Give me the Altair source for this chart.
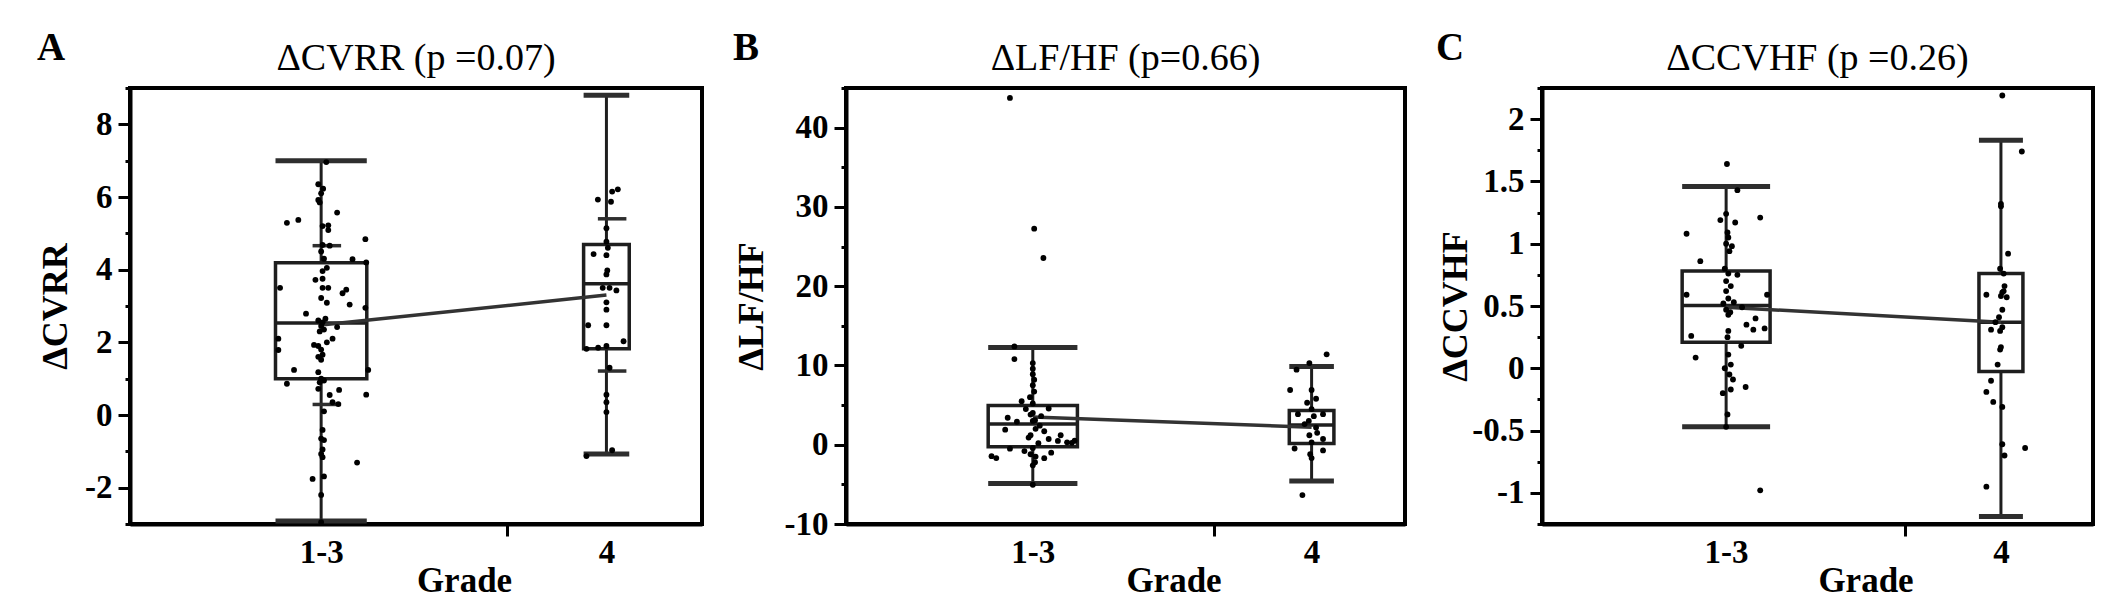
import altair as alt
import pandas as pd

FONT = "Liberation Serif"

# ---------------- text ----------------
panel_letters = ["A", "B", "C"]
panel_titles = ["ΔCVRR (p =0.07)", "ΔLF/HF (p=0.66)", "ΔCCVHF (p =0.26)"]
y_titles = ["ΔCVRR", "ΔLF/HF", "ΔCCVHF"]
x_title = "Grade"
group_pos = [1, 2]
group_labels = ["1-3", "4"]
x_tick_values = [1, 1.65, 2]
x_domain = [0.33, 2.335]

# ---------------- panel A : ΔCVRR ----------------
A_domain = [-3, 9]
A_ticks = list(range(-3, 10))
A_q1 = [1.0, 1.82]
A_med = [2.53, 3.61]
A_q3 = [4.19, 4.69]
A_lo = [-2.92, -1.07]
A_hi = [7.0, 8.8]
A_mean = [2.475, 3.3]
A_sd_hi = [4.66, 5.4]
A_sd_lo = [0.29, 1.21]
A_g1_dx = [0.018, 0.007, 0.0, -0.01, -0.005, 0.056, -0.12, -0.08, 0.025, 0.025, 0.005, 0.03, 0.155, 0.01,
           0.11, 0.158, 0.005, -0.02, 0.005, -0.144, 0.025, 0.005, 0.088, 0.075, 0.0, 0.02, 0.1, 0.155,
           -0.053, -0.01, 0.005, 0.056, -0.15, -0.15, -0.025, -0.01, 0.0, 0.005, 0.0, 0.04, -0.095, -0.01,
           0.165, -0.12, -0.005, -0.01, 0.063, 0.158, 0.03, 0.04, 0.06, 0.005, 0.01, 0.005, 0.126, -0.03,
           0.01, 0.0, 0.0, 0.0, 0.01, -0.005, 0.015, 0.02, -0.01, 0.0, 0.01, 0.02, 0.0, 0.005, -0.01,
           0.005, 0.0, 0.0, 0.01]
A_g1_y = [6.96, 6.23, 6.1, 5.92, 5.85, 5.57, 5.29, 5.37, 5.22, 5.09, 4.68, 4.66, 4.84, 4.3,
          4.29, 4.2, 3.96, 3.72, 3.75, 3.5, 3.5, 3.5, 3.45, 3.35, 3.22, 3.09, 3.04, 2.95,
          2.79, 2.6, 2.55, 2.42, 2.1, 1.79, 1.93, 1.9, 1.8, 1.66, 1.52, 2.1, 1.24, 1.18,
          1.24, 0.86, 0.9, 0.72, 0.69, 0.56, 0.55, 0.35, 0.3, -0.41, -0.69, -1.16, -1.31, -1.76,
          -1.69, -2.2, -2.95, 2.45, 2.35, 2.3, 2.65, 2.0, 1.6, 1.0, 0.95, 4.05, 4.5, 5.2, 6.35,
          -0.95, -0.65, -1.07, 0.1]
A_g2_dx = [0.04, 0.02, -0.03, 0.016, 0.0, 0.0, -0.045, 0.0, 0.003, 0.0, -0.013, 0.011, 0.035, 0.0,
           -0.064, 0.0, 0.06, -0.07, -0.029, 0.0, 0.011, 0.0, 0.0, 0.0, -0.07, 0.02, 0.005, 0.0]
A_g2_y = [6.21, 6.15, 5.93, 5.87, 5.14, 4.77, 4.43, 4.4, 3.98, 3.87, 3.5, 3.5, 3.43, 3.1,
          2.47, 2.47, 2.03, 1.82, 1.85, 1.9, 1.3, 0.56, 0.35, 0.08, -1.13, -0.97, 4.6, 2.9]

# ---------------- panel B : ΔLF/HF ----------------
B_domain = [-10, 45]
B_ticks = list(range(-10, 50, 5))
B_q1 = [-0.24, 0.14]
B_med = [2.6, 2.5]
B_q3 = [4.95, 4.33]
B_lo = [-4.9, -4.57]
B_hi = [12.26, 9.86]
B_mean = [3.5, 2.2]
B_g1_dx = [-0.082, 0.005, 0.038, -0.066, -0.066, 0.0, 0.0, 0.0, 0.005, 0.0, 0.005, -0.01, 0.057, -0.09,
           -0.057, -0.099, -0.025, -0.008, 0.008, 0.025, 0.041, -0.008, 0.057, 0.09, 0.14, -0.082, -0.148,
           -0.131, -0.008, 0.041, 0.008, 0.0, 0.066, 0.123, 0.0, 0.0, 0.01, -0.015, 0.02, 0.0, -0.03, 0.03,
           0.15, 0.1, -0.04, 0.0, 0.0, 0.01]
B_g1_y = [43.75, 27.26, 23.56, 12.4, 10.8, 10.3, 9.6, 8.9, 8.2, 7.5, 6.7, 6.0, 4.57, 3.4,
          2.9, 1.9, 4.5, 3.8, 3.1, 2.4, 1.7, 1.2, 0.72, 0.48, 0.24, -0.5, -1.44,
          -1.68, -1.2, -1.7, -2.2, -5.05, -1.0, 0.3, 5.2, 4.0, 2.0, 0.9, 0.2, -0.4, -0.8, 3.6,
          0.5, 1.2, 5.5, 3.0, -2.6, -1.5]
B_g2_dx = [0.054, -0.008, -0.054, -0.077, 0.0, 0.016, -0.016, -0.049, 0.008, 0.041, -0.025, 0.016,
           -0.008, 0.041, -0.061, -0.005, 0.041, 0.0, -0.033, 0.0, 0.02, -0.01, 0.0]
B_g2_y = [11.4, 10.3, 9.47, 6.9, 6.9, 5.8, 5.3, 3.85, 3.6, 3.85, 2.6, 2.16,
          1.2, 0.72, -0.48, -1.2, -0.72, -1.68, -6.35, 4.5, 1.5, 3.0, 0.3]

# ---------------- panel C : ΔCCVHF ----------------
C_domain = [-1.25, 2.25]
C_ticks = [-1.25, -1.0, -0.75, -0.5, -0.25, 0.0, 0.25, 0.5, 0.75, 1.0, 1.25, 1.5, 1.75, 2.0, 2.25]
C_q1 = [0.21, -0.025]
C_med = [0.505, 0.37]
C_q3 = [0.78, 0.76]
C_lo = [-0.47, -1.19]
C_hi = [1.46, 1.83]
C_mean = [0.49, 0.37]
C_g1_dx = [0.003, 0.041, -0.021, 0.0, 0.033, 0.124, -0.144, 0.005, 0.008, 0.021, 0.012, -0.094, -0.005,
           0.008, 0.0, 0.017, 0.041, -0.144, 0.149, 0.008, 0.028, 0.0, 0.008, 0.058, 0.107, 0.074, 0.099,
           0.14, -0.127, 0.008, 0.055, -0.111, 0.008, 0.017, 0.012, 0.025, 0.071, -0.012, 0.017, 0.005,
           0.124, 0.0, 0.0, -0.01, 0.015, 0.0, 0.005, -0.005]
C_g1_y = [1.64, 1.43, 1.19, 1.24, 1.17, 1.21, 1.08, 1.09, 1.05, 0.98, 0.94, 0.86, 0.8,
          0.76, 0.7, 0.66, 0.75, 0.59, 0.59, 0.56, 0.53, 0.47, 0.43, 0.49, 0.4, 0.35, 0.31,
          0.32, 0.26, 0.3, 0.18, 0.086, 0.11, 0.03, -0.05, -0.09, -0.15, -0.2, -0.17, -0.37,
          -0.98, -0.47, 0.62, 0.52, 0.45, 1.0, 0.25, 0.0]
C_g2_dx = [0.005, 0.076, 0.0, 0.026, -0.003, 0.01, 0.013, 0.005, 0.0, -0.053, 0.021, 0.005, -0.007,
           -0.02, -0.036, 0.005, -0.003, 0.0, -0.003, -0.012, -0.036, -0.053, -0.028, 0.005, 0.005,
           0.013, 0.088, -0.053, 0.01, 0.0]
C_g2_y = [2.19, 1.74, 1.3, 0.92, 0.8, 0.76, 0.66, 0.61, 0.58, 0.59, 0.57, 0.47, 0.41,
          0.37, 0.31, 0.33, 0.3, 0.17, 0.15, 0.03, -0.1, -0.19, -0.27, -0.31, -0.61,
          -0.7, -0.64, -0.95, 0.62, 1.32]

# ---------------- styling ----------------
BOX_HALF = [0.16, 0.08]
SD_SHIFT = 0.02
SD_HALF = 0.05
LINE_COLOR = "#1e1e1e"
CAP_COLOR = "#2e2e2e"


def make_panel(idx, width, domain, ticks, major_test, label_expr, title_x, letter_dx,
               q1, med, q3, lo, hi, mean, g1, g2, sd=None):
    box = pd.DataFrame({
        "x": group_pos,
        "xlo": [g - h for g, h in zip(group_pos, BOX_HALF)],
        "xhi": [g + h for g, h in zip(group_pos, BOX_HALF)],
        "q1": q1, "med": med, "q3": q3, "lo": lo, "hi": hi, "mean": mean,
    })
    pts = pd.DataFrame({
        "x": [group_pos[0] + d for d in g1[0]] + [group_pos[1] + d for d in g2[0]],
        "y": list(g1[1]) + list(g2[1]),
    })

    xscale = alt.Scale(domain=x_domain, nice=False, zero=False)
    yscale = alt.Scale(domain=domain, nice=False, zero=False)
    xaxis = alt.Axis(
        title=x_title, values=x_tick_values, grid=False,
        labelExpr="datum.value == 1 ? '" + group_labels[0] + "' : (datum.value == 2 ? '" + group_labels[1] + "' : '')",
        tickColor={"condition": {"test": "datum.value == 1.65", "value": "black"}, "value": "transparent"},
        tickSize=12, tickWidth=3, domainColor="black", domainWidth=4,
        labelFont=FONT, labelFontSize=33, labelFontWeight="bold", labelColor="black",
        labelPadding=0, labelOverlap=False, labelFlush=False,
        titleFont=FONT, titleFontSize=35, titleFontWeight="bold", titleColor="black",
        titleX=width / 2 + 48, titleY=67, titleBaseline="alphabetic",
    )
    yaxis = alt.Axis(
        title=y_titles[idx], values=ticks, grid=False, labelExpr=label_expr,
        tickColor="black", tickWidth=3,
        tickSize={"condition": {"test": "!(" + major_test + ")", "value": 5}, "value": 12},
        domainColor="black", domainWidth=4,
        labelFont=FONT, labelFontSize=33, labelFontWeight="bold", labelColor="black",
        labelPadding=6, labelOverlap=False, labelFlush=False,
        titleFont=FONT, titleFontSize=36, titleFontWeight="bold", titleColor="black",
        titleX=title_x, titleBaseline="alphabetic", titleAngle=270,
    )

    base = alt.Chart(box)
    X = alt.X("x:Q", scale=xscale, axis=xaxis)
    rect = base.mark_rect(fill="transparent", stroke=LINE_COLOR, strokeWidth=3.5).encode(
        x=alt.X("xlo:Q", scale=xscale, axis=xaxis), x2="xhi:Q",
        y=alt.Y("q1:Q", scale=yscale, axis=yaxis), y2="q3:Q")
    median = base.mark_rule(color=LINE_COLOR, strokeWidth=3.5).encode(
        x=alt.X("xlo:Q", scale=xscale, axis=xaxis), x2="xhi:Q",
        y=alt.Y("med:Q", scale=yscale, axis=yaxis))
    wh_up = base.mark_rule(color=LINE_COLOR, strokeWidth=3).encode(
        x=X, y=alt.Y("q3:Q", scale=yscale, axis=yaxis), y2="hi:Q")
    wh_dn = base.mark_rule(color=LINE_COLOR, strokeWidth=3).encode(
        x=X, y=alt.Y("q1:Q", scale=yscale, axis=yaxis), y2="lo:Q")
    cap_up = base.mark_rule(color=CAP_COLOR, strokeWidth=5).encode(
        x=alt.X("xlo:Q", scale=xscale, axis=xaxis), x2="xhi:Q",
        y=alt.Y("hi:Q", scale=yscale, axis=yaxis))
    cap_dn = base.mark_rule(color=CAP_COLOR, strokeWidth=5).encode(
        x=alt.X("xlo:Q", scale=xscale, axis=xaxis), x2="xhi:Q",
        y=alt.Y("lo:Q", scale=yscale, axis=yaxis))
    layers = [rect, median, wh_up, wh_dn, cap_up, cap_dn]

    if sd is not None:
        sdf = pd.DataFrame({
            "a": [g + SD_SHIFT - SD_HALF for g in group_pos] * 2,
            "b": [g + SD_SHIFT + SD_HALF for g in group_pos] * 2,
            "v": list(sd[0]) + list(sd[1]),
        })
        layers.append(alt.Chart(sdf).mark_rule(color=CAP_COLOR, strokeWidth=3.5).encode(
            x=alt.X("a:Q", scale=xscale, axis=xaxis), x2="b:Q",
            y=alt.Y("v:Q", scale=yscale, axis=yaxis)))

    mline = base.mark_line(color="#333333", strokeWidth=3.5).encode(
        x=X, y=alt.Y("mean:Q", scale=yscale, axis=yaxis))
    points = alt.Chart(pts).mark_circle(color="black", size=34, opacity=1).encode(
        x=X, y=alt.Y("y:Q", scale=yscale, axis=yaxis))
    layers += [mline, points]

    letter = alt.Chart(pd.DataFrame({"t": [panel_letters[idx]]})).mark_text(
        font=FONT, fontSize=39, fontWeight="bold", color="black", align="center", baseline="alphabetic"
    ).encode(text="t:N", x=alt.value(letter_dx), y=alt.value(-28))
    title = alt.Chart(pd.DataFrame({"t": [panel_titles[idx]]})).mark_text(
        font=FONT, fontSize=38, color="black", align="center", baseline="alphabetic"
    ).encode(text="t:N", x=alt.value(width / 2), y=alt.value(-18))
    layers += [letter, title]

    return alt.layer(*layers).properties(
        width=width, height=436,
        view=alt.ViewBackground(stroke="black", strokeWidth=4, fill="white"),
    )


pA = make_panel(0, 572, A_domain, A_ticks, "datum.value % 2 == 0",
                "datum.value % 2 == 0 ? '' + datum.value : ''", -64, -79,
                A_q1, A_med, A_q3, A_lo, A_hi, A_mean, (A_g1_dx, A_g1_y), (A_g2_dx, A_g2_y),
                sd=(A_sd_hi, A_sd_lo))
pB = make_panel(1, 559, B_domain, B_ticks, "datum.value % 10 == 0",
                "datum.value % 10 == 0 ? '' + datum.value : ''", -84, -100,
                B_q1, B_med, B_q3, B_lo, B_hi, B_mean, (B_g1_dx, B_g1_y), (B_g2_dx, B_g2_y))
pC = make_panel(2, 551, C_domain, C_ticks, "(datum.value * 2) % 1 == 0",
                "(datum.value * 2) % 1 == 0 ? '' + datum.value : ''", -76, -92,
                C_q1, C_med, C_q3, C_lo, C_hi, C_mean, (C_g1_dx, C_g1_y), (C_g2_dx, C_g2_y))

chart = alt.hconcat(pA, pB, pC, spacing=26).properties(
    padding={"left": 26, "top": 19, "right": 5, "bottom": 0},
    background="white",
)

chart.save("out.html", embed_options={"renderer": "svg", "actions": False})
